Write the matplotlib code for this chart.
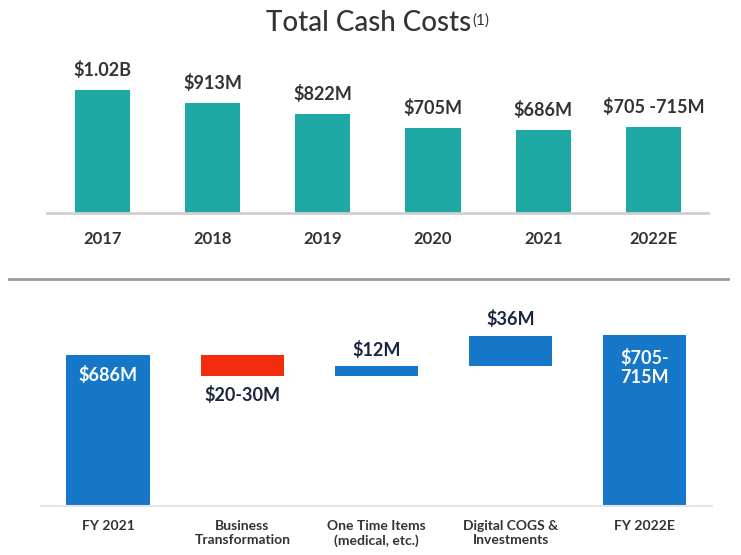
import numpy as np
import matplotlib.pyplot as plt
from matplotlib.lines import Line2D

plt.rcParams['font.family'] = ['Lato', 'DejaVu Sans']

# top chart data
years = ["2017", "2018", "2019", "2020", "2021", "2022E"]
cash_costs = [1020, 913, 822, 705, 686, 710]
cost_labels = ["$1.02B", "$913M", "$822M", "$705M", "$686M", "$705 -715M"]

# bottom waterfall data
steps = ["FY 2021", "Business\nTransformation", "One Time Items\n(medical, etc.)",
         "Digital COGS &\nInvestments", "FY 2022E"]
start_value = 686
changes = [-25, 12, 36]
end_value = 710
step_labels = ["$686M", "$20-30M", "$12M", "$36M", "$705-\n715M"]

TEAL = "#1ea9a5"
BLUE = "#1677c9"
RED = "#f42c0e"
NAVY = "#1b2440"
DARK = "#333333"

fig = plt.figure(figsize=(7.41, 5.55), dpi=100)

# title, with the footnote mark hung off its right edge
title = fig.text(0.497, 0.958, "Total Cash Costs", ha="center", va="center",
                 fontsize=20, fontweight="medium", color=DARK)
fig.texts.append(plt.Annotation("(1)", xy=(1, 0.62), xycoords=title, xytext=(1, 0),
                                textcoords="offset points", ha="left", va="center",
                                fontsize=11, color=DARK))
fig.texts[-1].set_figure(fig)

# top chart
ax1 = fig.add_axes([0.064, 0.6162, 0.892, 0.2757])
x = np.arange(len(years))
bars = ax1.bar(x, cash_costs, width=0.5, color=TEAL)
for b, lab in zip(bars, cost_labels):
    ax1.annotate(lab, (b.get_x() + b.get_width() / 2, b.get_height()), xytext=(0, 8),
                 textcoords="offset points", ha="center", va="bottom",
                 fontsize=13, fontweight="bold", color=DARK)
ax1.set_xlim(-0.5, len(years) - 0.5)
ax1.set_ylim(0, 1270)
ax1.set_xticks(x)
ax1.set_xticklabels(years, fontsize=12, fontweight="bold", color=DARK)
ax1.tick_params(axis="x", length=0, pad=13)
ax1.set_yticks([])
for s in ["top", "left", "right"]:
    ax1.spines[s].set_visible(False)
ax1.spines["bottom"].set_color("#cfcfcf")
ax1.spines["bottom"].set_linewidth(2)

# separator
fig.add_artist(Line2D([9 / 741, 728 / 741], [1 - 279 / 555, 1 - 279 / 555], color="#9a9a9a", lw=2))

# bottom waterfall
ax2 = fig.add_axes([0.0553, 0.0883, 0.9055, 0.371])
x2 = np.arange(len(steps))
w = 0.62
ax2.bar(x2[0], start_value, width=w, color=BLUE)
level = start_value
bottoms = []
for i, c in enumerate(changes):
    lo = level + min(c, 0)
    bottoms.append(lo)
    ax2.bar(x2[i + 1], abs(c), bottom=lo, width=w, color=RED if c < 0 else BLUE)
    level += c
ax2.bar(x2[-1], end_value, width=w, color=BLUE)

ax2.annotate(step_labels[0], (x2[0], start_value), xytext=(0, -8), textcoords="offset points",
             ha="center", va="top", fontsize=13, fontweight="bold", color="white")
ax2.annotate(step_labels[1], (x2[1], bottoms[0]), xytext=(0, -7), textcoords="offset points",
             ha="center", va="top", fontsize=13, fontweight="bold", color=NAVY)
ax2.annotate(step_labels[2], (x2[2], bottoms[1] + changes[1]), xytext=(0, 5), textcoords="offset points",
             ha="center", va="bottom", fontsize=13, fontweight="bold", color=NAVY)
ax2.annotate(step_labels[3], (x2[3], bottoms[2] + changes[2]), xytext=(0, 6), textcoords="offset points",
             ha="center", va="bottom", fontsize=13, fontweight="bold", color=NAVY)
ax2.annotate(step_labels[4], (x2[4], end_value), xytext=(0, -10), textcoords="offset points",
             ha="center", va="top", fontsize=13, fontweight="bold", color="white", linespacing=1.15)

ax2.set_xlim(-0.5, len(steps) - 0.5)
ax2.set_ylim(505, 752)
ax2.set_xticks(x2)
ax2.set_xticklabels(steps, fontsize=10, fontweight="bold", color=DARK, va="top")
ax2.tick_params(axis="x", length=0, pad=10)
ax2.set_yticks([])
for s in ["top", "left", "right"]:
    ax2.spines[s].set_visible(False)
ax2.spines["bottom"].set_color("#e4e4e4")
ax2.spines["bottom"].set_linewidth(1.5)

plt.savefig("out.png", dpi=100)
